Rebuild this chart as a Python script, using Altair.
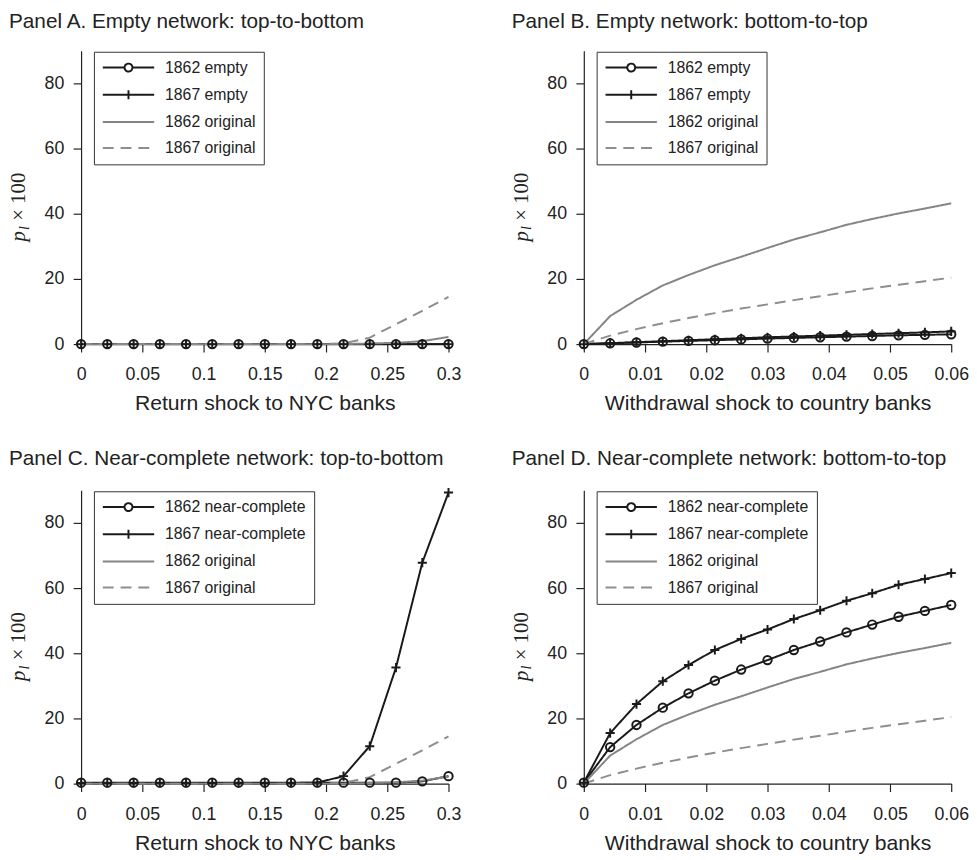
import altair as alt
import pandas as pd

# ---------------- data ----------------
x_top = [0, 0.0214, 0.0429, 0.0643, 0.0857, 0.1071, 0.1286, 0.15, 0.1714,
         0.1929, 0.2143, 0.2357, 0.2571, 0.2786, 0.3]
x_bot = [0, 0.0043, 0.0086, 0.0129, 0.0171, 0.0214, 0.0257, 0.03, 0.0343,
         0.0386, 0.0429, 0.0471, 0.0514, 0.0557, 0.06]

# original networks (gray)
orig1862_top = [0, 0, 0, 0, 0, 0, 0, 0, 0, 0, 0, 0.2, 0.4, 0.9, 2.2]
orig1867_top = [0, 0, 0, 0, 0, 0, 0, 0, 0, 0, 0.2, 2.0, 6.1, 10.2, 14.5]
orig1862_bot = [0, 8.6, 13.6, 18.0, 21.2, 24.2, 26.8, 29.5, 32.1, 34.3,
                36.6, 38.4, 40.1, 41.6, 43.2]
orig1867_bot = [0, 2.6, 4.6, 6.4, 8.0, 9.5, 10.9, 12.2, 13.5, 14.7,
                15.9, 17.1, 18.2, 19.3, 20.4]

# Panel A: empty network, top-to-bottom
a_1862 = [0, 0, 0, 0, 0, 0, 0, 0, 0, 0, 0, 0, 0, 0, 0]
a_1867 = [0, 0, 0, 0, 0, 0, 0, 0, 0, 0, 0, 0, 0, 0, 0]
# Panel B: empty network, bottom-to-top
b_1862 = [0, 0.25, 0.5, 0.75, 1.0, 1.2, 1.45, 1.7, 1.9, 2.1, 2.3, 2.5, 2.7, 2.85, 3.0]
b_1867 = [0, 0.3, 0.6, 0.9, 1.2, 1.5, 1.8, 2.1, 2.35, 2.6, 2.85, 3.1, 3.35, 3.6, 3.9]
# Panel C: near-complete network, top-to-bottom
c_1862 = [0.3, 0.3, 0.3, 0.3, 0.3, 0.3, 0.3, 0.3, 0.3, 0.3, 0.3, 0.3, 0.3, 0.7, 2.3]
c_1867 = [0.2, 0.2, 0.2, 0.2, 0.2, 0.2, 0.2, 0.2, 0.2, 0.3, 2.3, 11.5, 35.6, 67.8, 89.3]
# Panel D: near-complete network, bottom-to-top
d_1862 = [0.3, 11.2, 18.0, 23.3, 27.7, 31.6, 35.0, 37.9, 41.0, 43.6, 46.4,
          48.8, 51.2, 53.0, 54.8]
d_1867 = [0.3, 15.5, 24.4, 31.4, 36.4, 41.0, 44.4, 47.3, 50.5, 53.2, 56.1,
          58.4, 61.0, 62.8, 64.6]

x_ticks_top = [0, 0.05, 0.1, 0.15, 0.2, 0.25, 0.3]
x_ticks_bot = [0, 0.01, 0.02, 0.03, 0.04, 0.05, 0.06]
y_ticks = [0, 20, 40, 60, 80]

titles = ["Panel A. Empty network: top-to-bottom",
          "Panel B. Empty network: bottom-to-top",
          "Panel C. Near-complete network: top-to-bottom",
          "Panel D. Near-complete network: bottom-to-top"]
x_titles = ["Return shock to NYC banks", "Withdrawal shock to country banks"]

# ---------------- style ----------------
FONT = "Liberation Sans"
SERIF = "Liberation Serif"
INK = "#1a1a1a"
TXT = "#222222"
GRAY = "#858585"
GRAY2 = "#8e8e8e"

LEG_CIRCLE = "M-5.2,0H-0.8M0.8,0H5.2M0.8,0A0.8,0.8,0,1,1,-0.8,0A0.8,0.8,0,1,1,0.8,0"
LEG_CROSS = "M-5.2,0H5.2M0,-0.9V0.9"
LEG_LINE = "M-5.2,0H5.2"
PLUS = "M-1,0H1M0,-1V1"

W, H = 372, 297


def make_df(xs, pairs):
    rows = []
    for name, vals in pairs:
        for x, y in zip(xs, vals):
            rows.append({"x": x, "y": y, "series": name})
    return pd.DataFrame(rows)


def panel(title, title_y, xs, xmax, xticks, xtitle, kind, v1862, v1867, o1862, o1867):
    names = [f"1862 {kind}", f"1867 {kind}", "1862 original", "1867 original"]
    df = make_df(xs, list(zip(names, [v1862, v1867, o1862, o1867])))
    base = alt.Chart(df)

    X = alt.X("x:Q", scale=alt.Scale(domain=[0, xmax], nice=False, zero=False),
              axis=alt.Axis(values=xticks, format="~g", title=xtitle, labelFlush=False))
    Y = alt.Y("y:Q", scale=alt.Scale(domain=[0, 90], nice=False, zero=False),
              axis=alt.Axis(values=y_ticks, format="d", title=None, labelFlush=False))

    leg = alt.Legend(title=None, orient="none", legendX=13, legendY=1,
                     symbolSize=100, symbolOffset=19, labelOffset=29,
                     symbolStrokeWidth=2.2, rowPadding=10.5, padding=8,
                     strokeColor="#333333", fillColor="white",
                     labelFont=FONT, labelFontSize=16, labelColor=TXT,
                     labelLimit=400)
    color = alt.Color("series:N", scale=alt.Scale(domain=names, range=[INK, INK, GRAY, GRAY2]),
                      legend=leg)
    dash = alt.StrokeDash("series:N",
                          scale=alt.Scale(domain=names, range=[[1, 0], [1, 0], [1, 0], [11, 7]]),
                          legend=leg)
    sw = alt.StrokeWidth("series:N", scale=alt.Scale(domain=names, range=[2, 2, 2.6, 1.6]),
                         legend=None)

    lines = base.mark_line().encode(x=X, y=Y, color=color, strokeDash=dash, strokeWidth=sw)

    circles = base.mark_point(shape="circle", filled=False, size=72, strokeWidth=2,
                              color=INK, opacity=1).encode(x=X, y=Y).transform_filter(
        alt.datum.series == names[0])
    crosses = base.mark_point(shape=PLUS, filled=False, size=85, strokeWidth=2,
                              color=INK, opacity=1).encode(x=X, y=Y).transform_filter(
        alt.datum.series == names[1])

    legend_layer = base.mark_point(filled=False, opacity=1).encode(
        x=X, y=Y, color=color, strokeDash=dash,
        shape=alt.Shape("series:N",
                        scale=alt.Scale(domain=names, range=[LEG_CIRCLE, LEG_CROSS, LEG_LINE, LEG_LINE]),
                        legend=leg),
    ).transform_filter("datum.y < -1000")

    one = pd.DataFrame({"k": [0]})
    t_title = alt.Chart(one).mark_text(text=title, font=FONT, fontSize=21, align="left",
                                       baseline="alphabetic", color=TXT).encode(
        x=alt.value(-73), y=alt.value(title_y))
    t_p = alt.Chart(one).mark_text(text="p", font=SERIF, fontStyle="italic", fontSize=21,
                                   angle=270, align="left", baseline="alphabetic",
                                   color=TXT).encode(x=alt.value(-57), y=alt.value(193))
    t_l = alt.Chart(one).mark_text(text="l", font=SERIF, fontStyle="italic", fontSize=14,
                                   angle=270, align="left", baseline="alphabetic",
                                   color=TXT).encode(x=alt.value(-53), y=alt.value(181.5))
    t_r = alt.Chart(one).mark_text(text="\u00d7 100", font=SERIF, fontSize=21,
                                   angle=270, align="left", baseline="alphabetic",
                                   color=TXT).encode(x=alt.value(-57), y=alt.value(172))

    return alt.layer(lines, circles, crosses, legend_layer, t_title, t_p, t_l, t_r).properties(
        width=W, height=H)


pA = panel(titles[0], -23.3, x_top, 0.3, x_ticks_top, x_titles[0], "empty", a_1862, a_1867,
           orig1862_top, orig1867_top)
pB = panel(titles[1], -23.3, x_bot, 0.06, x_ticks_bot, x_titles[1], "empty", b_1862, b_1867,
           orig1862_bot, orig1867_bot)
pC = panel(titles[2], -26, x_top, 0.3, x_ticks_top, x_titles[0], "near-complete", c_1862, c_1867,
           orig1862_top, orig1867_top)
pD = panel(titles[3], -26, x_bot, 0.06, x_ticks_bot, x_titles[1], "near-complete", d_1862, d_1867,
           orig1862_bot, orig1867_bot)

RES = dict(color="independent", strokeDash="independent", shape="independent",
           strokeWidth="independent")
LRES = dict(color="independent", strokeDash="independent", shape="independent")


def row(a, b):
    return alt.hconcat(a, b, spacing=50).resolve_scale(**RES).resolve_legend(**LRES)


chart = alt.vconcat(row(pA, pB), row(pC, pD), spacing=34).resolve_scale(**RES).resolve_legend(
    **LRES).properties(
    padding={"left": 0, "top": -3, "right": 0, "bottom": 0}
).configure_view(strokeWidth=0).configure_axis(
    grid=False, domainColor=TXT, domainWidth=1.2, tickColor=TXT, tickWidth=1.2, tickSize=8,
    labelFont=FONT, labelFontSize=18, labelColor=TXT, titleFont=FONT, titleFontSize=21.4,
    titleFontWeight="normal", titleColor=TXT,
).configure_axisX(labelPadding=14, titlePadding=9.5).configure_axisY(labelPadding=9.5)

chart.save("out.html", embed_options={"renderer": "svg", "actions": False})
